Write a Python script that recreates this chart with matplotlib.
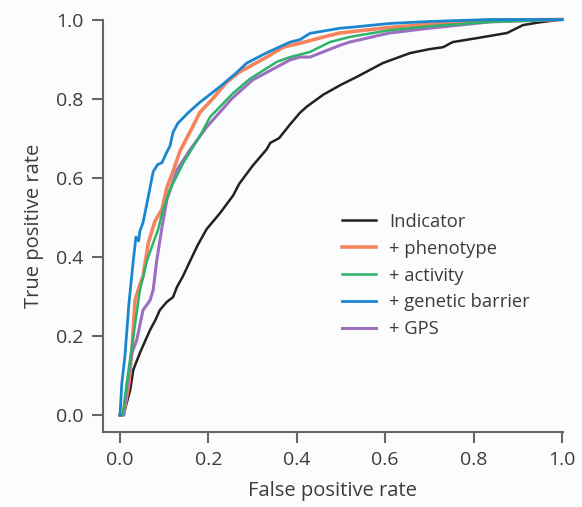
"""ROC curves for the stepwise models (indicator, + phenotype, + activity,
+ genetic barrier, + GPS), values read off the published figure."""
import matplotlib
matplotlib.use("Agg")
import matplotlib.pyplot as plt

# ---- curve points (false positive rate, true positive rate) ----
indicator_fpr = [0.0, 0.008, 0.015, 0.023, 0.03, 0.045, 0.058, 0.068, 0.08, 0.09,
                 0.106, 0.12, 0.129, 0.142, 0.158, 0.176, 0.196, 0.226, 0.256,
                 0.27, 0.30, 0.332, 0.34, 0.36, 0.385, 0.407, 0.423, 0.46, 0.50,
                 0.536, 0.595, 0.656, 0.70, 0.731, 0.753, 0.808, 0.876, 0.912,
                 0.95, 1.0]
indicator_tpr = [0.0, 0.0, 0.03, 0.063, 0.114, 0.157, 0.19, 0.215, 0.24, 0.265,
                 0.286, 0.298, 0.324, 0.35, 0.388, 0.43, 0.47, 0.51, 0.555,
                 0.585, 0.63, 0.672, 0.688, 0.70, 0.735, 0.764, 0.78, 0.81, 0.835,
                 0.855, 0.89, 0.915, 0.925, 0.93, 0.943, 0.953, 0.966, 0.986,
                 0.993, 1.0]

phenotype_fpr = [0.0, 0.008, 0.02, 0.027, 0.034, 0.045, 0.052, 0.064, 0.079,
                 0.095, 0.106, 0.118, 0.136, 0.165, 0.18, 0.21, 0.24, 0.27,
                 0.332, 0.369, 0.407, 0.475, 0.498, 0.61, 0.70, 0.837, 1.0]
phenotype_tpr = [0.0, 0.0, 0.08, 0.165, 0.29, 0.33, 0.35, 0.435, 0.49, 0.52,
                 0.575, 0.61, 0.668, 0.73, 0.764, 0.80, 0.84, 0.867, 0.905,
                 0.93, 0.94, 0.96, 0.966, 0.98, 0.988, 0.998, 1.0]

activity_fpr = [0.0, 0.006, 0.015, 0.03, 0.045, 0.061, 0.075, 0.086, 0.097,
                0.113, 0.143, 0.15, 0.183, 0.204, 0.256, 0.294, 0.355, 0.385,
                0.43, 0.475, 0.52, 0.61, 0.70, 0.837, 1.0]
activity_tpr = [0.0, 0.0, 0.08, 0.197, 0.316, 0.39, 0.435, 0.468, 0.518,
                0.57, 0.637, 0.65, 0.71, 0.754, 0.814, 0.85, 0.893, 0.905,
                0.918, 0.943, 0.956, 0.973, 0.983, 0.994, 1.0]

genetic_fpr = [0.0, 0.004, 0.011, 0.02, 0.03, 0.036, 0.042, 0.045, 0.052,
               0.06, 0.075, 0.085, 0.095, 0.106, 0.113, 0.12, 0.131, 0.155,
               0.18, 0.226, 0.26, 0.287, 0.332, 0.385, 0.407, 0.43, 0.498,
               0.52, 0.61, 0.70, 0.837, 1.0]
genetic_tpr = [0.0, 0.08, 0.147, 0.28, 0.39, 0.45, 0.44, 0.465, 0.486,
               0.53, 0.615, 0.633, 0.638, 0.665, 0.68, 0.715, 0.738, 0.765,
               0.79, 0.83, 0.862, 0.89, 0.916, 0.943, 0.949, 0.965, 0.978,
               0.98, 0.99, 0.995, 1.0, 1.0]

gps_fpr = [0.0, 0.008, 0.018, 0.027, 0.038, 0.052, 0.068, 0.075, 0.083,
           0.095, 0.106, 0.129, 0.158, 0.196, 0.253, 0.30, 0.385, 0.407,
           0.43, 0.498, 0.52, 0.61, 0.70, 0.837, 1.0]
gps_tpr = [0.0, 0.0, 0.09, 0.157, 0.19, 0.265, 0.29, 0.316, 0.39,
           0.475, 0.544, 0.62, 0.67, 0.728, 0.80, 0.847, 0.898, 0.905,
           0.905, 0.935, 0.943, 0.966, 0.978, 0.994, 1.0]

labels = ["Indicator", "+ phenotype", "+ activity", "+ genetic barrier", "+ GPS"]
colors = ["#222222", "#f5845c", "#2db36a", "#1a86d0", "#9d6fc0"]
widths = [1.8, 2.6, 1.8, 2.0, 2.2]
zorders = [3, 4, 6, 7, 5]
TEXT = "#3c3c3c"
SPINE = "#666666"

plt.rcParams["font.family"] = ["Open Sans", "DejaVu Sans"]

fig = plt.figure(figsize=(5.82, 5.07), dpi=100, facecolor="#fbfcfd")
ax = fig.add_axes([0.177, 0.148, 0.790, 0.8135])
ax.set_facecolor("#fbfcfd")

curves = [(indicator_fpr, indicator_tpr), (phenotype_fpr, phenotype_tpr),
          (activity_fpr, activity_tpr), (genetic_fpr, genetic_tpr),
          (gps_fpr, gps_tpr)]
for (fx, ty), lab, c, w, z in zip(curves, labels, colors, widths, zorders):
    ax.plot(fx, ty, color=c, lw=w, label=lab, zorder=z, clip_on=False,
            solid_joinstyle="round")

ax.set_xlim(-0.0385, 1.002)
ax.set_ylim(-0.043, 1.0)
ax.set_xticks([0.0, 0.2, 0.4, 0.6, 0.8, 1.0])
ax.set_yticks([0.0, 0.2, 0.4, 0.6, 0.8, 1.0])
ax.set_xticklabels(["0.0", "0.2", "0.4", "0.6", "0.8", "1.0"])
ax.set_yticklabels(["0.0", "0.2", "0.4", "0.6", "0.8", "1.0"])

for s in ["top", "right"]:
    ax.spines[s].set_visible(False)
for s in ["left", "bottom"]:
    ax.spines[s].set_color(SPINE)
    ax.spines[s].set_linewidth(1.5)
ax.tick_params(direction="out", length=8, width=1.5, color=SPINE,
               labelsize=14, labelcolor=TEXT, pad=6)

ax.set_xlabel("False positive rate", fontsize=14.5, color=TEXT, labelpad=8)
ax.set_ylabel("True positive rate", fontsize=14.5, color=TEXT, labelpad=9)

leg = ax.legend(loc="upper left", bbox_to_anchor=(0.52, 0.532), frameon=False,
                fontsize=13.2, handlelength=1.85, handletextpad=0.72,
                labelspacing=0.49, borderpad=0, borderaxespad=0)
for t in leg.get_texts():
    t.set_color(TEXT)

fig.savefig("out.png", dpi=100, facecolor=fig.get_facecolor())
